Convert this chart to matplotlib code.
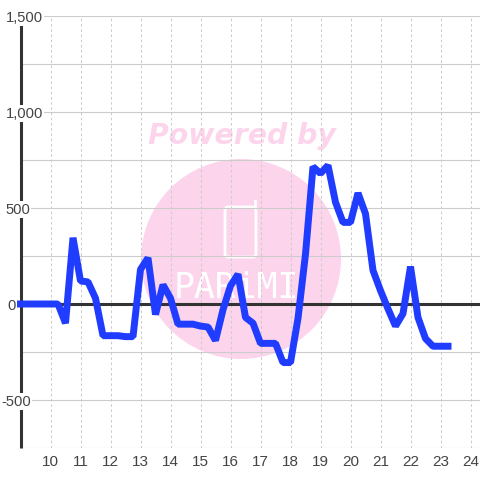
import matplotlib
matplotlib.use("Agg")
import matplotlib.pyplot as plt
from matplotlib.patches import Circle, FancyBboxPatch

hours = [9, 9.25, 9.5, 9.75, 10, 10.25, 10.5, 10.75, 11, 11.25, 11.5, 11.75, 12, 12.25, 12.5, 12.75,
         13, 13.25, 13.5, 13.75, 14, 14.25, 14.5, 14.75, 15, 15.25, 15.5, 15.75, 16, 16.25, 16.5, 16.75,
         17, 17.25, 17.5, 17.75, 18, 18.25, 18.5, 18.75, 19, 19.25, 19.5, 19.75, 20, 20.25, 20.5, 20.75,
         21, 21.25, 21.5, 21.75, 22, 22.25, 22.5, 22.75, 23, 23.25]
values = [0, 0, 0, 0, 0, 0, -100, 345, 120, 115, 30, -165, -165, -165, -170, -170,
          180, 240, -55, 100, 30, -105, -105, -105, -115, -120, -190, -30, 95, 155, -70, -100,
          -205, -205, -205, -305, -305, -75, 260, 715, 680, 722, 530, 425, 425, 578, 470, 175,
          70, -25, -115, -50, 195, -70, -180, -220, -220, -220]

x_ticks = list(range(10, 25))
y_ticks = [-500, 0, 500, 1000, 1500]
y_labels = ["-500", "0", "500", "1,000", "1,500"]
y_grid = [-750, -500, -250, 0, 250, 500, 750, 1000, 1250, 1500]

plt.rcParams["font.family"] = "Liberation Sans"
fig = plt.figure(figsize=(4.8, 4.8), dpi=100)

# watermark sits under the chart, in pixel coords
bg = fig.add_axes([0, 0, 1, 1], zorder=0)
bg.set_xlim(0, 480)
bg.set_ylim(480, 0)
bg.axis("off")
pink = "#fcd5ec"
bg.add_patch(Circle((241, 259), 100, color=pink, lw=0))
bg.text(242, 136, "Powered by", color=pink, fontsize=20.4, fontweight="bold", style="italic",
        family="DejaVu Sans", ha="center", va="center")
bg.add_patch(FancyBboxPatch((225, 207), 31, 50, boxstyle="round,pad=0,rounding_size=3",
                            fc="none", ec="white", lw=2))
bg.plot([255, 255], [201, 208], color="white", lw=2)
bg.text(236, 288, "PARiMI", color="white", fontsize=25, family="DejaVu Sans Mono",
        ha="center", va="center")

xmax = 9 + 459.5 / 30
ax = fig.add_axes([20.5 / 480, 32 / 480, 459.5 / 480, 432 / 480], zorder=1)
ax.patch.set_alpha(0)
ax.set_xlim(9, xmax)
ax.set_ylim(-750, 1500)
for s in ax.spines.values():
    s.set_visible(False)

ax.hlines(y_grid, 9, xmax, color="#cccccc", lw=0.8, zorder=1)
ax.vlines(x_ticks, -750, 1500, color="#cccccc", lw=0.75, linestyles=(0, (2.5, 2.5)), zorder=1)
ax.axhline(0, color="#333333", lw=2.2, zorder=2)
ax.plot([9, 9], [-750, 1458], color="#333333", lw=2.2, solid_capstyle="butt", zorder=2, clip_on=False)

ax.set_xticks(x_ticks)
ax.set_yticks([])
ax.tick_params(axis="x", length=0, pad=5, labelsize=11, labelcolor="#444444")

# right edge of each y label, in px
label_right = [31, 16, 30, 43, 43]
for v, lab, r in zip(y_ticks, y_labels, label_right):
    ax.annotate(lab, (0, v), xycoords=("figure pixels", "data"), xytext=(r, 0), textcoords="offset pixels",
                color="#444444", fontsize=10.6, ha="right", va="center_baseline",
                bbox=dict(fc="white", ec="none", pad=1), zorder=4, annotation_clip=False)

ax.plot(hours, values, color="#1f3cff", lw=5, solid_joinstyle="bevel", solid_capstyle="projecting",
        zorder=5, clip_on=False)

fig.savefig("out.png", dpi=100)
